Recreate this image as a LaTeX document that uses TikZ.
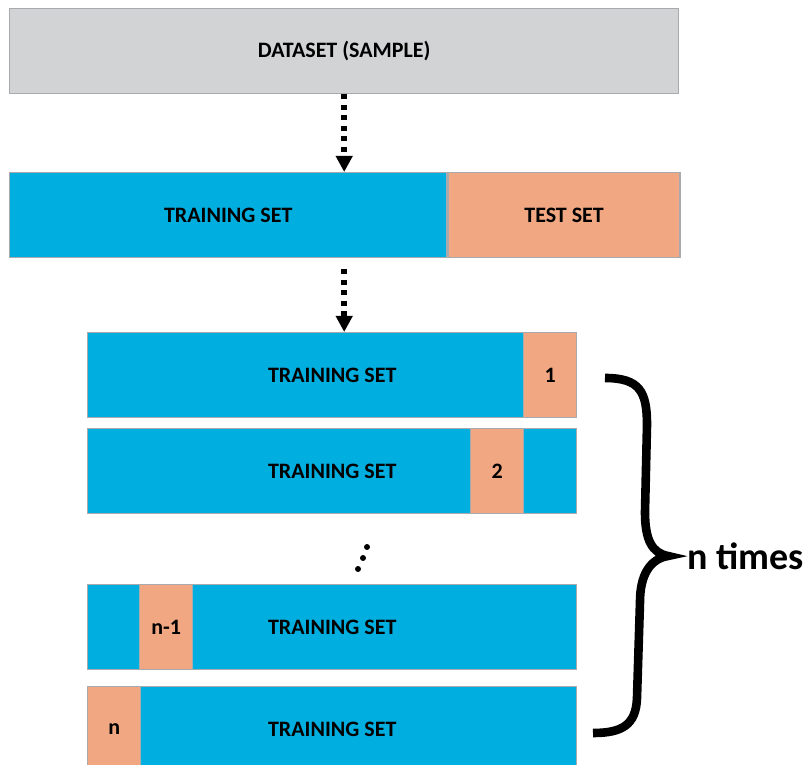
\documentclass[tikz,border=0pt]{standalone}
\usepackage{fontspec}
\setmainfont{Carlito}
\usetikzlibrary{arrows.meta}
\definecolor{trainblue}{RGB}{0,174,224}
\definecolor{testsalmon}{RGB}{241,168,130}
\definecolor{datagray}{RGB}{209,211,212}
\definecolor{edgegray}{RGB}{168,170,173}
\begin{document}
\begin{tikzpicture}[
        x=0.5pt, y=-0.5pt,
        font=\bfseries\fontsize{11}{13}\selectfont,
        bar/.style={draw=edgegray, line width=0.7pt, inner sep=0pt, minimum height=42.5pt, anchor=north west},
        trainbar/.style={bar, fill=trainblue},
        testbar/.style={bar, fill=testsalmon, minimum width=26.5pt},
        flow/.style={line width=2.8pt, dash pattern=on 2.4pt off 2.85pt, -{Triangle[width=8pt,length=8pt]}}
    ]
        \useasboundingbox (0,0) rectangle (805,765);
        % Whole sample and first split
        \node[bar, fill=datagray, minimum width=334.5pt] (dataset) at (9,8) {DATASET (SAMPLE)};
        \node[trainbar, minimum width=218.5pt] (train) at (9,172) {TRAINING SET};
        \node[testbar, minimum width=116pt] (test) at (train.north east) {TEST SET};
        \draw[flow] (dataset.south) -- (dataset.south |- train.north);
        % Cross-validation folds
        \foreach \row/\top/\cx/\lab in {
            rowA/332/523/1,
            rowB/428/470/2,
            rowC/584/139/n-1,
            rowD/686/87/n
        } {
            \node[trainbar, minimum width=244.5pt] (\row) at (87,\top) {TRAINING SET};
            \node[testbar] (\row-test) at (\cx,\top) {\lab};
        }
        \draw[flow, shorten <=5.5pt] (dataset.south |- train.south) -- (dataset.south |- rowA.north);
        \foreach \dx/\dy in {367/547, 363/558, 358/569}
            \fill (\dx,\dy) circle (1.5pt);
        % Brace
        \coordinate (tip) at (668,556);
        \draw[line width=4.3pt] (605,378) .. controls (640,378) and (647,392) .. (647,425)
            -- (645,512) .. controls (645,540) and (652,553) .. (tip)
            .. controls (650,559) and (640,575) .. (640,602)
            -- (637,698) .. controls (636,725) and (622,733) .. (593,733);
        \node[anchor=west, inner sep=0pt, font=\bfseries\fontsize{19}{22}\selectfont] (times) at ([xshift=9.5pt]tip) {n times};
    \end{tikzpicture}
\end{document}
